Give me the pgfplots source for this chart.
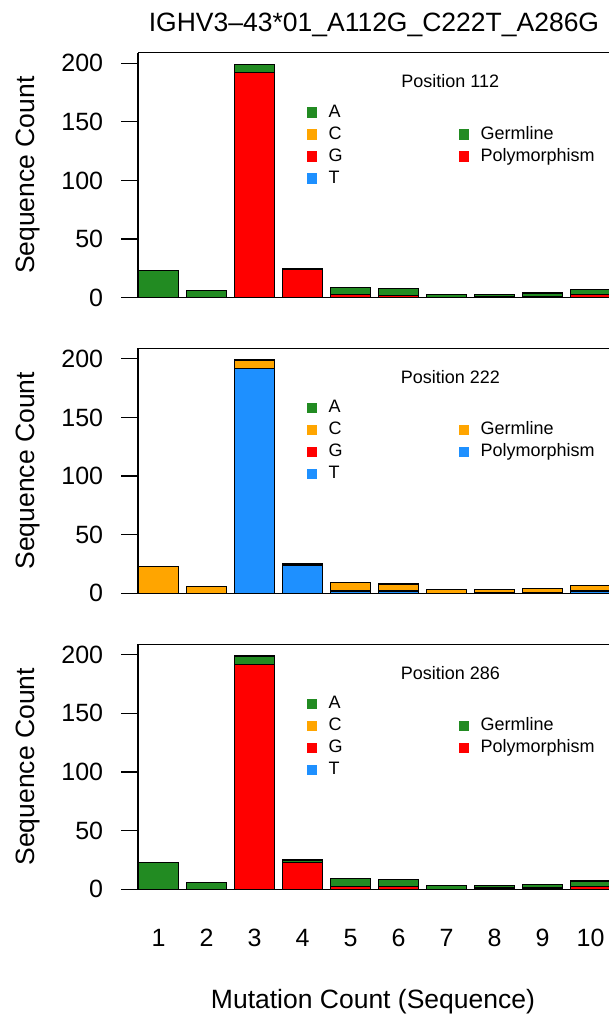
\documentclass[border=0pt]{standalone}
\usepackage{fontspec}
\setmainfont{Liberation Sans}
\usepackage{pgfplots}
\pgfplotsset{compat=1.18}
\definecolor{cA}{RGB}{34,139,34}
\definecolor{cC}{RGB}{255,165,0}
\definecolor{cG}{RGB}{255,0,0}
\definecolor{cT}{RGB}{30,144,255}
\pgfplotsset{
 sq/.style={legend image code/.code={\fill[#1] (0pt,-4.65pt) rectangle (9.3pt,4.65pt);}},
 panel/.style={
  scale only axis, width=471pt, height=245pt,
  xmin=0.573, xmax=10.385, ymin=0, ymax=209,
  axis y line*=left,
  axis line style={line width=1.2pt},
  ytick={0,50,100,150,200},
  tick align=outside, ytick pos=left,
  major tick length=16.7pt,
  ytick style={line width=1.2pt, black},
  xtick=\empty,
  tick label style={font=\fontsize{25}{30}\selectfont},
  /pgf/number format/assume math mode=true,
  yticklabel style={anchor=east, inner sep=0pt, xshift=-18pt},
  ylabel={Sequence Count},
  every axis y label/.style={at={(axis description cs:-0.2187,0.5)}, rotate=90, anchor=base, font=\fontsize{26.5}{30}\selectfont},
  ybar stacked, bar width=0.8333, bar shift=0pt,
  legend columns=2,
  legend style={draw=none, fill=none, inner sep=0pt, outer sep=0pt,
    font=\fontsize{18}{21}\selectfont, row sep=4pt, column sep=12.3pt,
    nodes={inner sep=0pt, text height=14pt, text depth=4pt, text width=117.5pt, align=left},
    at={(axis description cs:0.3582,0.7935)}, anchor=north west},
  legend cell align=left,
 }
}
\begin{document}
\begin{tikzpicture}
\useasboundingbox (0pt,0pt) rectangle (609pt,-1023pt);
\node[anchor=base, font=\fontsize{26.5}{30}\selectfont] at (374pt,-31pt) {IGHV3–43*01\_A112G\_C222T\_A286G};
% Panel 1
\begin{axis}[panel, at={(138pt,-52.7pt)}, anchor=north west]
\addplot[fill=cG, draw=black, line width=1.2pt, forget plot] coordinates {(1,0) (2,0) (3,192) (4,24) (5,3) (6,2) (7,0) (8,1) (9,1) (10,3)};
\addplot[fill=cA, draw=black, line width=1.2pt, forget plot] coordinates {(1,23) (2,6) (3,7) (4,1) (5,6) (6,6) (7,3) (8,2) (9,3) (10,4)};
\addlegendimage{sq=cA}\addlegendentry{A}
\addlegendimage{empty legend}\addlegendentry{}
\addlegendimage{sq=cC}\addlegendentry{C}
\addlegendimage{sq=cA}\addlegendentry{Germline}
\addlegendimage{sq=cG}\addlegendentry{G}
\addlegendimage{sq=cG}\addlegendentry{Polymorphism}
\addlegendimage{sq=cT}\addlegendentry{T}
\addlegendimage{empty legend}\addlegendentry{}
\node[anchor=base, font=\fontsize{18}{21}\selectfont] at (axis description cs:0.6631,0.8571) {Position 112};
\end{axis}
% Panel 2
\begin{axis}[panel, at={(138pt,-348.3pt)}, anchor=north west]
\addplot[fill=cT, draw=black, line width=1.2pt, forget plot] coordinates {(1,0) (2,0) (3,192) (4,24) (5,2) (6,2) (7,0) (8,1) (9,1) (10,2)};
\addplot[fill=cC, draw=black, line width=1.2pt, forget plot] coordinates {(1,23) (2,6) (3,7) (4,1) (5,7) (6,6) (7,3) (8,2) (9,3) (10,5)};
\addlegendimage{sq=cA}\addlegendentry{A}
\addlegendimage{empty legend}\addlegendentry{}
\addlegendimage{sq=cC}\addlegendentry{C}
\addlegendimage{sq=cC}\addlegendentry{Germline}
\addlegendimage{sq=cG}\addlegendentry{G}
\addlegendimage{sq=cT}\addlegendentry{Polymorphism}
\addlegendimage{sq=cT}\addlegendentry{T}
\addlegendimage{empty legend}\addlegendentry{}
\node[anchor=base, font=\fontsize{18}{21}\selectfont] at (axis description cs:0.6631,0.8571) {Position 222};
\end{axis}
% Panel 3
\begin{axis}[panel, at={(138pt,-644.2pt)}, anchor=north west,
  xtick={1,2,3,4,5,6,7,8,9,10}, xtick style={draw=none}, xtick pos=bottom,
  xticklabel style={anchor=north, inner sep=0pt, yshift=-23pt},
  xlabel={Mutation Count (Sequence)},
  every axis x label/.style={at={(axis description cs:0.4989,-0.4886)}, anchor=base, font=\fontsize{26.5}{30}\selectfont}]
\addplot[fill=cG, draw=black, line width=1.2pt, forget plot] coordinates {(1,0) (2,0) (3,192) (4,23) (5,2) (6,2) (7,0) (8,1) (9,1) (10,2)};
\addplot[fill=cA, draw=black, line width=1.2pt, forget plot] coordinates {(1,23) (2,6) (3,7) (4,2) (5,7) (6,6) (7,3) (8,2) (9,3) (10,5)};
\addlegendimage{sq=cA}\addlegendentry{A}
\addlegendimage{empty legend}\addlegendentry{}
\addlegendimage{sq=cC}\addlegendentry{C}
\addlegendimage{sq=cA}\addlegendentry{Germline}
\addlegendimage{sq=cG}\addlegendentry{G}
\addlegendimage{sq=cG}\addlegendentry{Polymorphism}
\addlegendimage{sq=cT}\addlegendentry{T}
\addlegendimage{empty legend}\addlegendentry{}
\node[anchor=base, font=\fontsize{18}{21}\selectfont] at (axis description cs:0.6631,0.8571) {Position 286};
\end{axis}
\end{tikzpicture}
\end{document}
